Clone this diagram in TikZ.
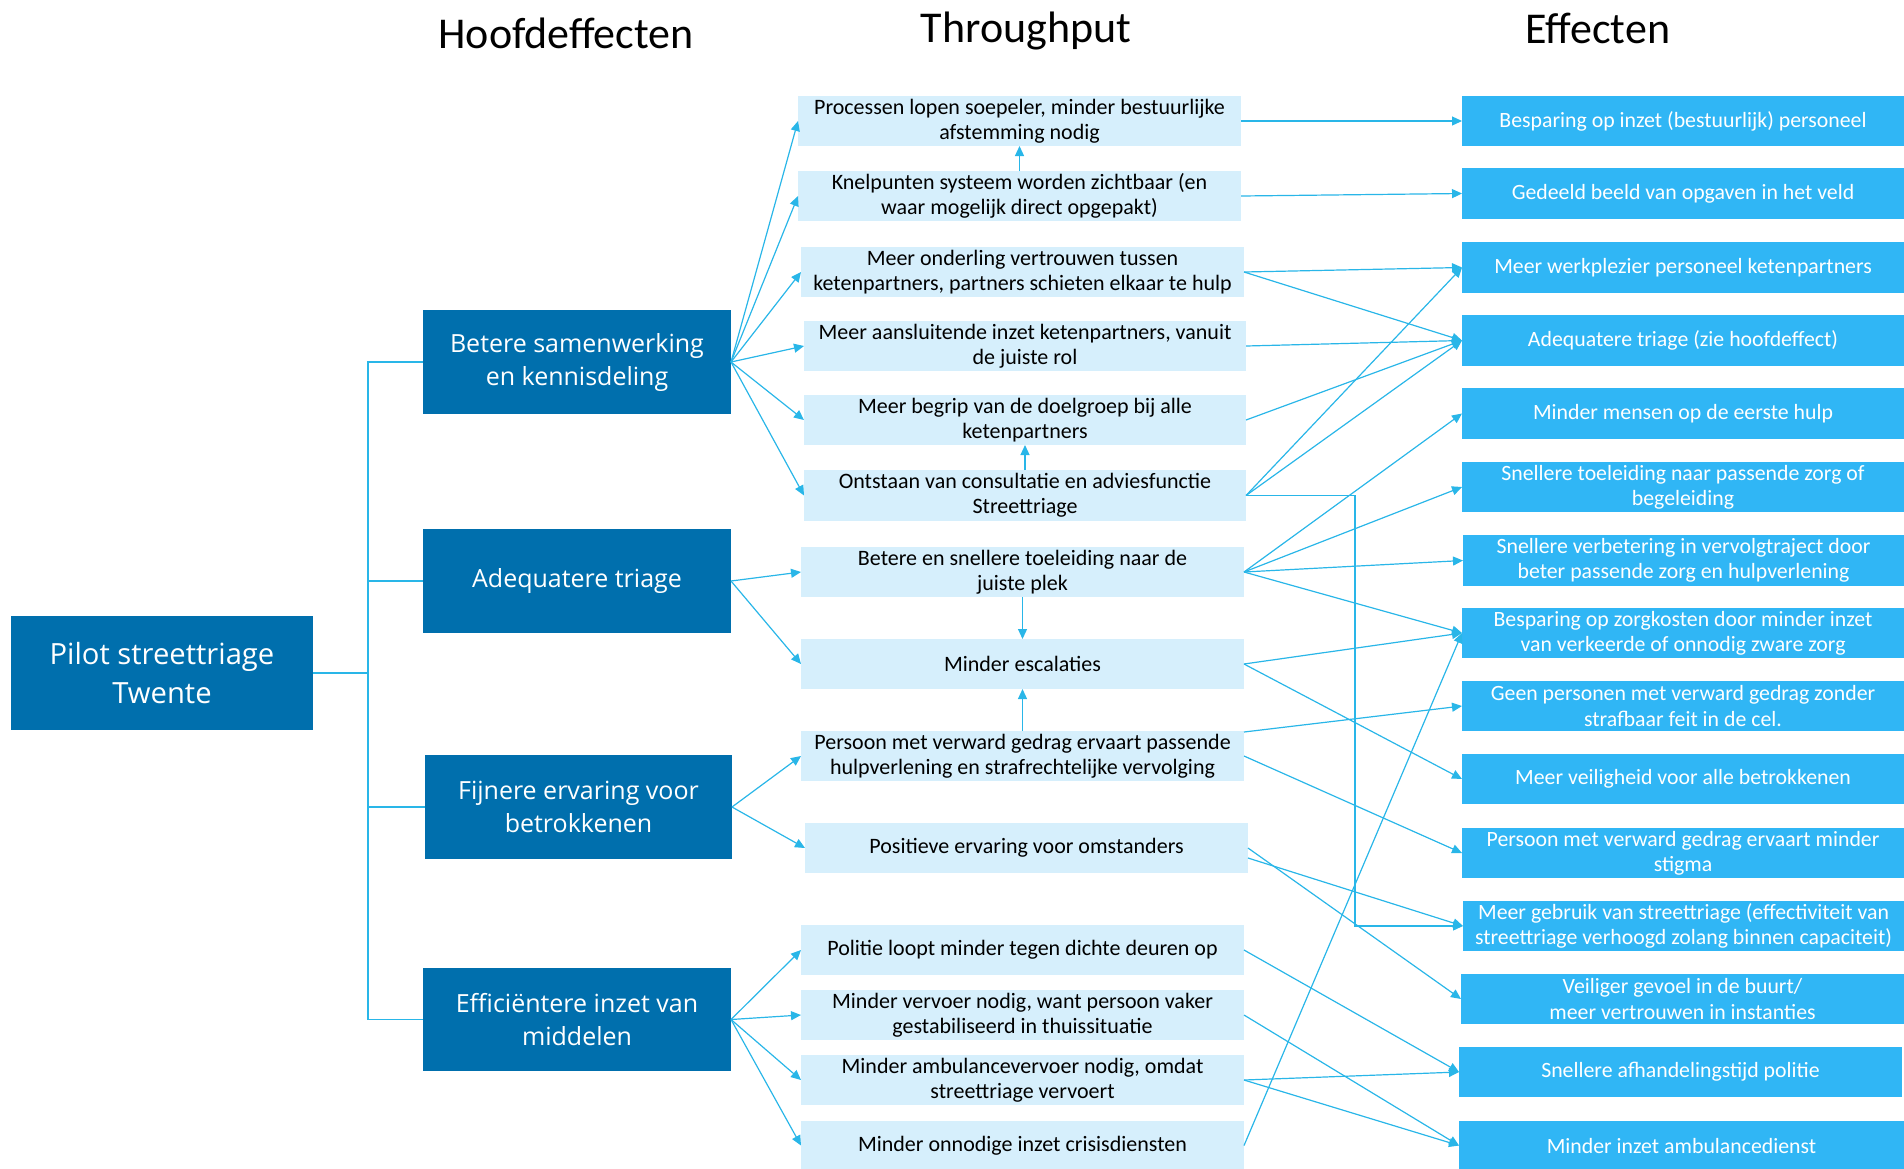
\documentclass[tikz,border=0pt]{standalone}
\usepackage{fontspec}
\setmainfont{Carlito}
\newfontfamily\mainboxfont{Open Sans}
\usetikzlibrary{arrows.meta}
\definecolor{dkblue}{RGB}{0,111,173}
\definecolor{effblue}{RGB}{48,182,245}
\definecolor{tpbg}{RGB}{214,239,252}
\definecolor{lncol}{RGB}{41,182,232}
\newcommand\mkbox[7]{\node[#6, minimum width={(#4-#2)*0.5pt}, minimum height={(#5-#3)*0.5pt}] (#1) at ({(#2+#4)/2},{(#3+#5)/2}) {#7};}
\tikzset{
  basebox/.style={inner sep=0pt, outer sep=0pt, align=center},
  rootbox/.style={basebox, fill=dkblue, text=white, font=\mainboxfont\fontsize{14.6}{19.5}\selectfont},
  mainbox/.style={basebox, fill=dkblue, text=white, font=\mainboxfont\fontsize{12.5}{16.5}\selectfont},
  tpbox/.style={basebox, fill=tpbg, text=black, font=\fontsize{11}{12.6}\selectfont},
  effbox/.style={basebox, fill=effblue, text=white, font=\fontsize{10.9}{12.6}\selectfont},
  header/.style={anchor=base, inner sep=0pt, font=\fontsize{22}{26}\selectfont},
  ln/.style={draw=lncol, line width=0.6pt},
  arr/.style={ln, -{Triangle[length=5pt,width=4.5pt]}}
}
\begin{document}
\begin{tikzpicture}[x=0.5pt,y=-0.5pt]
\useasboundingbox (0,0) rectangle (1904,1168);
% headers
\node[header] (h1) at (566,48) {Hoofdeffecten};
\node[header] (h2) at (1026,42) {Throughput};
\node[header] (h3) at (1598,43) {Effecten};
% root and main effects
\mkbox{root}{11}{616}{313}{730}{rootbox}{Pilot streettriage\\Twente}
\mkbox{M1}{423}{310}{731}{414}{mainbox}{Betere samenwerking\\en kennisdeling}
\mkbox{M2}{423}{529}{731}{633}{mainbox}{Adequatere triage}
\mkbox{M3}{425}{755}{732}{859}{mainbox}{Fijnere ervaring voor\\betrokkenen}
\mkbox{M4}{423}{968}{731}{1071}{mainbox}{Effici\"entere inzet van\\middelen}
% throughput
\mkbox{T1}{798}{96}{1241}{146}{tpbox}{Processen lopen soepeler, minder bestuurlijke\\afstemming nodig}
\mkbox{T2}{798}{171}{1241}{221}{tpbox}{Knelpunten systeem worden zichtbaar (en\\waar mogelijk direct opgepakt)}
\mkbox{T3}{801}{247}{1244}{297}{tpbox}{Meer onderling vertrouwen tussen\\ketenpartners, partners schieten elkaar te hulp}
\mkbox{T4}{804}{321}{1246}{371}{tpbox}{Meer aansluitende inzet ketenpartners, vanuit\\de juiste rol}
\mkbox{T5}{804}{395}{1246}{445}{tpbox}{Meer begrip van de doelgroep bij alle\\ketenpartners}
\mkbox{T6}{804}{470}{1246}{521}{tpbox}{Ontstaan van consultatie en adviesfunctie\\Streettriage}
\mkbox{T7}{801}{547}{1244}{597}{tpbox}{Betere en snellere toeleiding naar de\\juiste plek}
\mkbox{T8}{801}{639}{1244}{689}{tpbox}{Minder escalaties}
\mkbox{T9}{801}{731}{1244}{781}{tpbox}{Persoon met verward gedrag ervaart passende\\hulpverlening en strafrechtelijke vervolging}
\mkbox{T10}{805}{823}{1248}{873}{tpbox}{Positieve ervaring voor omstanders}
\mkbox{T11}{801}{925}{1244}{975}{tpbox}{Politie loopt minder tegen dichte deuren op}
\mkbox{T12}{801}{990}{1244}{1040}{tpbox}{Minder vervoer nodig, want persoon vaker\\gestabiliseerd in thuissituatie}
\mkbox{T13}{801}{1055}{1244}{1105}{tpbox}{Minder ambulancevervoer nodig, omdat\\streettriage vervoert}
\mkbox{T14}{801}{1121}{1244}{1170}{tpbox}{Minder onnodige inzet crisisdiensten}
% effects
\mkbox{E1}{1462}{96}{1904}{146}{effbox}{Besparing op inzet (bestuurlijk) personeel}
\mkbox{E2}{1462}{168}{1904}{219}{effbox}{Gedeeld beeld van opgaven in het veld}
\mkbox{E3}{1462}{242}{1904}{293}{effbox}{Meer werkplezier personeel ketenpartners}
\mkbox{E4}{1462}{315}{1904}{366}{effbox}{Adequatere triage (zie hoofdeffect)}
\mkbox{E5}{1462}{388}{1904}{439}{effbox}{Minder mensen op de eerste hulp}
\mkbox{E6}{1462}{462}{1904}{512}{effbox}{Snellere toeleiding naar passende zorg of\\begeleiding}
\mkbox{E7}{1463}{535}{1904}{586}{effbox}{Snellere verbetering in vervolgtraject door\\beter passende zorg en hulpverlening}
\mkbox{E8}{1462}{608}{1904}{658}{effbox}{Besparing op zorgkosten door minder inzet\\van verkeerde of onnodig zware zorg}
\mkbox{E9}{1462}{681}{1904}{731}{effbox}{Geen personen met verward gedrag zonder\\strafbaar feit in de cel.}
\mkbox{E10}{1462}{754}{1904}{804}{effbox}{Meer veiligheid voor alle betrokkenen}
\mkbox{E11}{1462}{828}{1904}{878}{effbox}{Persoon met verward gedrag ervaart minder\\stigma}
\mkbox{E12}{1463}{901}{1904}{951}{effbox}{Meer gebruik van streettriage (effectiviteit van\\streettriage verhoogd zolang binnen capaciteit)}
\mkbox{E13}{1461}{974}{1904}{1024}{effbox}{Veiliger gevoel in de buurt/\\meer vertrouwen in instanties}
\mkbox{E14}{1459}{1047}{1902}{1097}{effbox}{Snellere afhandelingstijd politie}
\mkbox{E15}{1459}{1121}{1904}{1170}{effbox}{Minder inzet ambulancedienst}
% tree
\coordinate (bus) at (368,673);
\coordinate (bend6) at (1355,0);
\draw[ln] (root.east) -- (bus);
\draw[ln] (bus) |- (M1.west);
\draw[ln] (bus) |- (M2.west);
\draw[ln] (bus) |- (M3.west);
\draw[ln] (bus) |- (M4.west);
% main -> throughput
\foreach \t in {T1,T2,T3,T4,T5,T6} \draw[arr] (M1.east) -- (\t.west);
\foreach \t in {T7,T8} \draw[arr] (M2.east) -- (\t.west);
\foreach \t in {T9,T10} \draw[arr] (M3.east) -- (\t.west);
\foreach \t in {T11,T12,T13,T14} \draw[arr] (M4.east) -- (\t.west);
% vertical links
\draw[arr] (T2.north) -- (T1.south);
\draw[arr] (T6.north) -- (T5.south);
\draw[arr] (T7.south) -- (T8.north);
\draw[arr] (T9.north) -- (T8.south);
% throughput -> effects
\draw[arr] (T1.east) -- (E1.west);
\draw[arr] (T2.east) -- (E2.west);
\draw[arr] (T3.east) -- (E3.west);
\draw[arr] (T3.east) -- (E4.west);
\draw[arr] (T4.east) -- (E4.west);
\draw[arr] (T5.east) -- (E4.west);
\draw[arr] (T6.east) -- (E3.west);
\draw[arr] (T6.east) -- (E4.west);
\draw[arr] (T6.east) -- (T6.east -| bend6) |- (E12.west);
\foreach \e in {E5,E6,E7,E8} \draw[arr] (T7.east) -- (\e.west);
\draw[arr] (T8.east) -- (E8.west);
\draw[arr] (T8.east) -- (E10.west);
\draw[arr] ([yshift=-0.5pt]T9.north east) -- (E9.west);
\draw[arr] (T9.east) -- (E11.west);
\draw[arr] (T10.east) -- (E13.west);
\draw[arr] ([yshift=-5pt]T10.east) -- (E12.west);
\draw[arr] (T11.east) -- (E14.west);
\draw[arr] (T12.east) -- (E15.west);
\draw[arr] (T13.east) -- (E14.west);
\draw[arr] (T13.east) -- (E15.west);
\draw[arr] (T14.east) -- (E8.west);
\end{tikzpicture}
\end{document}
